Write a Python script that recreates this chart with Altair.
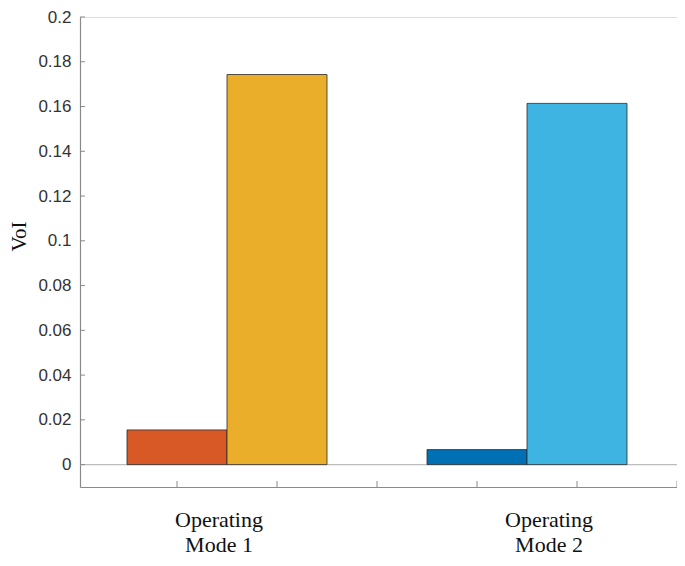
import altair as alt
import pandas as pd

# Data
groups = ["Operating Mode 1", "Operating Mode 1", "Operating Mode 2", "Operating Mode 2"]
positions = [1, 2, 4, 5]
values = [0.0155, 0.1743, 0.0067, 0.1614]
bar_colors = ["#D95926", "#EBAE2B", "#0070B5", "#3DB4E2"]
y_ticks = [0, 0.02, 0.04, 0.06, 0.08, 0.1, 0.12, 0.14, 0.16, 0.18, 0.2]
x_ticks = [1, 2, 3, 4, 5, 6]
label_texts = ["Operating\nMode 1", "Operating\nMode 2"]
label_pos = [1.42, 4.72]

BAR_W = 1.0
bars_df = pd.DataFrame({
    "group": groups,
    "x0": [p - BAR_W / 2 for p in positions],
    "x1": [p + BAR_W / 2 for p in positions],
    "value": values,
    "color": bar_colors,
})
yt_df = pd.DataFrame({"v": y_ticks})
xt_df = pd.DataFrame({"t": x_ticks})
lab_df = pd.DataFrame({"text": label_texts, "x": label_pos})

W, H = 597, 470
xscale = alt.Scale(domain=[0.03, 6], nice=False, zero=False)
yscale = alt.Scale(domain=[-0.01, 0.2], nice=False, zero=False)

GRAY = "#8a8a8a"

base_zero = alt.Chart(pd.DataFrame({"z": [0]})).mark_rule(
    color="#bdbdbd", strokeWidth=1.2
).encode(
    y=alt.Y("z:Q", scale=yscale,
            axis=alt.Axis(values=y_ticks, format="~g", title="VoI",
                          labelFont="Liberation Sans", labelFontSize=17,
                          labelColor="#333333", labelPadding=9,
                          ticks=False, domainColor=GRAY, domainWidth=1.2,
                          grid=False,
                          titleFont="Liberation Serif", titleFontSize=21,
                          titleFontWeight="normal", titleColor="#111111",
                          titleAngle=-90, titleX=-61, titleY=219,
                          titleAlign="center", titleBaseline="middle")),
)

bars = alt.Chart(bars_df).mark_rect(stroke="#2a2a2a", strokeWidth=0.8).encode(
    x=alt.X("x0:Q", scale=xscale,
            axis=alt.Axis(values=x_ticks, labels=False, ticks=False, title=None,
                          domainColor=GRAY, domainWidth=1.2, grid=False)),
    x2="x1:Q",
    y=alt.Y("value:Q", scale=yscale),
    y2=alt.datum(0),
    color=alt.Color("color:N", scale=None, legend=None),
)

ytick_marks = alt.Chart(yt_df).mark_rule(color=GRAY, strokeWidth=1).encode(
    y=alt.Y("v:Q", scale=yscale),
    x=alt.value(0),
    x2=alt.value(5),
)

xtick_marks = alt.Chart(xt_df).mark_rule(color=GRAY, strokeWidth=1).encode(
    x=alt.X("t:Q", scale=xscale),
    y=alt.value(H),
    y2=alt.value(H - 6),
)

labels = alt.Chart(lab_df).mark_text(
    font="Liberation Serif", fontSize=22, color="#111111",
    align="center", baseline="alphabetic", lineBreak="\n", lineHeight=25,
).encode(
    x=alt.X("x:Q", scale=xscale),
    y=alt.value(H + 40),
    text="text:N",
)

chart = alt.layer(base_zero, bars, ytick_marks, xtick_marks, labels).properties(
    width=W, height=H,
    autosize=alt.AutoSizeParams(type="none"),
    padding={"left": 72, "top": 9, "right": 0, "bottom": 71},
).configure_view(stroke=None).configure(background="white")

chart.save("out.html", embed_options={"renderer": "svg", "actions": False})
